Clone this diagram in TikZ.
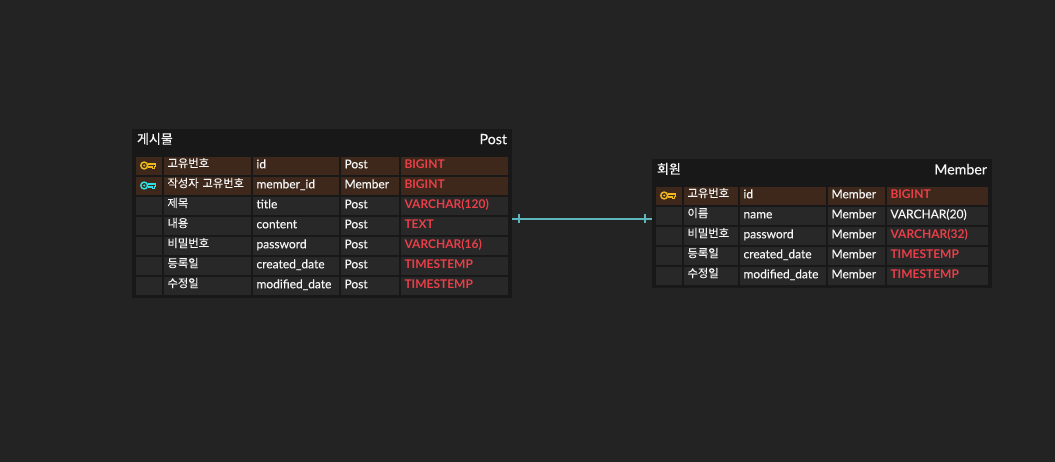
\documentclass[tikz,border=0pt]{standalone}
\usepackage{fontspec}
\setmainfont[FakeBold=0.12]{Lato}
\newfontfamily\latobold{Lato Bold}
\newfontfamily\hangul[FakeBold=0.2]{Noto Sans CJK KR}
\usetikzlibrary{positioning}
\definecolor{canvasgray}{HTML}{232323}
\definecolor{framegray}{HTML}{181818}
\definecolor{cellgray}{HTML}{282828}
\definecolor{keybrown}{HTML}{3E281B}
\definecolor{typered}{HTML}{EA3F49}
\definecolor{labelwhite}{HTML}{F6F6F6}
\definecolor{keyyellow}{HTML}{F0B81F}
\definecolor{keycyan}{HTML}{2FE0E0}
\definecolor{linkteal}{HTML}{5CB6BC}
\tikzset{
  tablebox/.style={rectangle, fill=framegray, inner sep=0pt, outer sep=0pt},
  tabletitle/.style={inner sep=0pt, outer sep=0pt, text=labelwhite, font=\fontsize{14.2}{15}\selectfont},
  cellbox/.style={rectangle, inner xsep=3.5pt, inner ysep=0pt, outer sep=0pt, text height=11.3pt, text depth=6.7pt,
    align=left, text=labelwhite, font=\fontsize{12}{12}\selectfont},
  koreancell/.style={cellbox, text height=10.3pt, text depth=7.7pt, font=\hangul\fontsize{11.3}{12}\selectfont},
  redtype/.style={text=typered, font=\latobold\fontsize{12}{12}\selectfont},
  plaintype/.style={},
  relation/.style={draw=linkteal, line width=2pt},
  relationtick/.style={draw=linkteal, line width=1.4pt},
  pics/keyicon/.style={code={
    \draw[#1, line width=1.5pt] (-4.8,-0.5) circle (3.4);
    \fill[#1] (-4.8,-0.5) circle (1.1);
    \draw[#1, line width=1.3pt] (-1.4,-2.1) -- (6.6,-2.1) -- (6.6,0.3) -- (5.2,0.3) -- (5.2,2.7) -- (3.4,2.7) -- (3.4,0.9) -- (-1.4,0.9);
  }},
}
\begin{document}
\begin{tikzpicture}[x=1pt, y=-1pt]
    \fill[canvasgray] (0,0) rectangle (1055,462);

    \node[tablebox, minimum width=380pt, minimum height=169pt] (post) at (322,213.5) {};
    \node[tabletitle, font=\hangul\fontsize{13}{14}\selectfont, below right=4pt and 5pt of post.north west] (post ko) {게시물};
    \node[tabletitle, below left=5pt and 5pt of post.north east] (post en) {Post};
    \coordinate[below right=26pt and 17pt of post.north west] (post r0);
    \foreach \row/\prev/\ko/\en/\tb/\ty/\tystyle/\bg in {
      1/0/고유번호/id/Post/BIGINT/redtype/keybrown,
      2/1/작성자 고유번호/member\_id/Member/BIGINT/redtype/keybrown,
      3/2/제목/title/Post/VARCHAR(120)/redtype/cellgray,
      4/3/내용/content/Post/TEXT/redtype/cellgray,
      5/4/비밀번호/password/Post/VARCHAR(16)/redtype/cellgray,
      6/5/등록일/created\_date/Post/TIMESTEMP/redtype/cellgray,
      7/6/수정일/modified\_date/Post/TIMESTEMP/redtype/cellgray}
    {
      \node[cellbox, fill=\bg, text width=19pt, below=2pt of post r\prev] (post r\row) {};
      \node[koreancell, fill=\bg, text width=80pt, right=2pt of post r\row] (post r\row ko) {\ko};
      \node[cellbox, fill=\bg, text width=79pt, right=2pt of post r\row ko] (post r\row en) {\en};
      \node[cellbox, fill=\bg, text width=51pt, right=2pt of post r\row en] (post r\row tb) {\tb};
      \node[cellbox, \tystyle, fill=\bg, text width=100pt, right=2pt of post r\row tb] (post r\row ty) {\ty};
    }

    \node[tablebox, minimum width=340pt, minimum height=129pt] (member) at (822,223.5) {};
    \node[tabletitle, font=\hangul\fontsize{13}{14}\selectfont, below right=4pt and 5pt of member.north west] (member ko) {회원};
    \node[tabletitle, below left=5pt and 5pt of member.north east] (member en) {Member};
    \coordinate[below right=26pt and 17pt of member.north west] (member r0);
    \foreach \row/\prev/\ko/\en/\tb/\ty/\tystyle/\bg in {
      1/0/고유번호/id/Member/BIGINT/redtype/keybrown,
      2/1/이름/name/Member/VARCHAR(20)/plaintype/cellgray,
      3/2/비밀번호/password/Member/VARCHAR(32)/redtype/cellgray,
      4/3/등록일/created\_date/Member/TIMESTEMP/redtype/cellgray,
      5/4/수정일/modified\_date/Member/TIMESTEMP/redtype/cellgray}
    {
      \node[cellbox, fill=\bg, text width=19pt, below=2pt of member r\prev] (member r\row) {};
      \node[koreancell, fill=\bg, text width=47pt, right=2pt of member r\row] (member r\row ko) {\ko};
      \node[cellbox, fill=\bg, text width=79pt, right=2pt of member r\row ko] (member r\row en) {\en};
      \node[cellbox, fill=\bg, text width=50pt, right=2pt of member r\row en] (member r\row tb) {\tb};
      \node[cellbox, \tystyle, fill=\bg, text width=94pt, right=2pt of member r\row tb] (member r\row ty) {\ty};
    }

    \pic at (post r1) {keyicon=keyyellow};
    \pic at (post r2) {keyicon=keycyan};
    \pic at (member r1) {keyicon=keyyellow};

    \coordinate (link start) at ([yshift=-5.2pt]post.east);
    \coordinate (link end) at ([yshift=4.8pt]member.west);
    \coordinate[right=7pt of link start] (start tick);
    \coordinate[left=7pt of link end] (end tick);
    \draw[relation] (link start) -- (link end);
    \draw[relationtick] ([yshift=4.8pt]start tick) -- ([yshift=-4.8pt]start tick);
    \draw[relationtick] ([yshift=4.8pt]end tick) -- ([yshift=-4.8pt]end tick);
\end{tikzpicture}
\end{document}
